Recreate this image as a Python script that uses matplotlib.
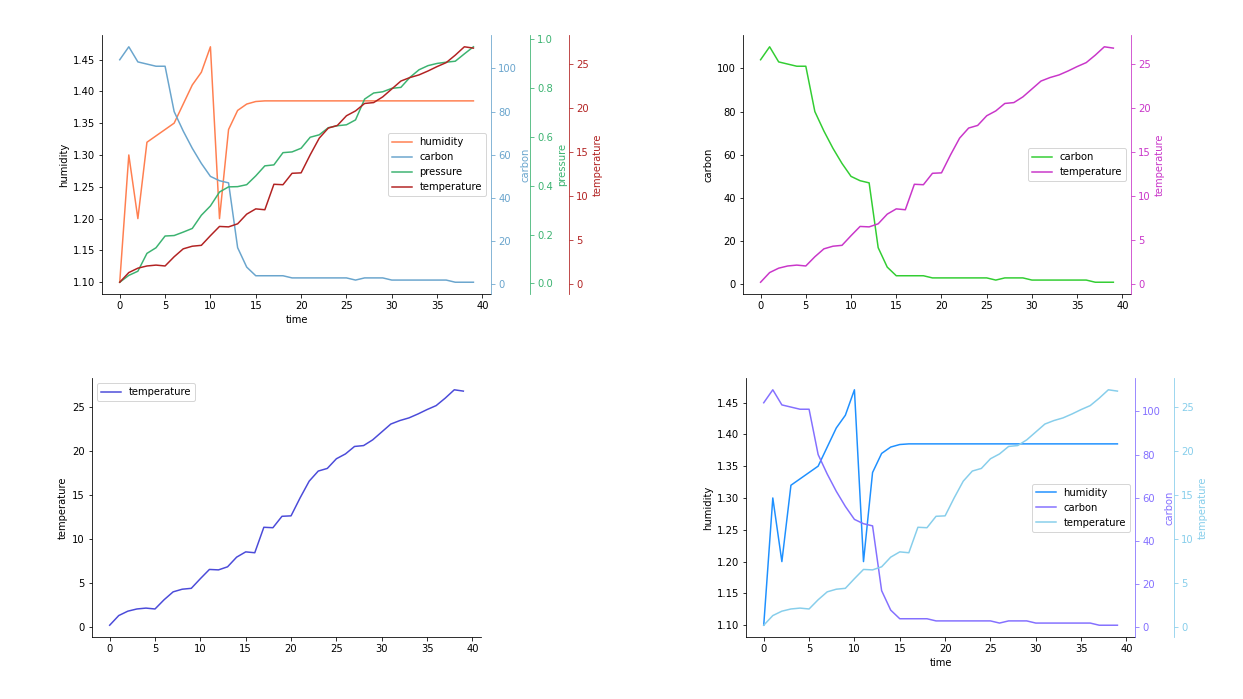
import matplotlib
matplotlib.use("Agg")
import matplotlib.pyplot as plt

# sensor readings, one per time step
time = list(range(40))
humidity = [1.10, 1.30, 1.20, 1.32, 1.33, 1.34, 1.35, 1.38, 1.41, 1.43,
            1.47, 1.20, 1.34, 1.37, 1.38, 1.384, 1.385, 1.385, 1.385, 1.385,
            1.385, 1.385, 1.385, 1.385, 1.385, 1.385, 1.385, 1.385, 1.385, 1.385,
            1.385, 1.385, 1.385, 1.385, 1.385, 1.385, 1.385, 1.385, 1.385, 1.385]
carbon = [104, 110, 103, 102, 101, 101, 80, 71, 63, 56,
          50, 48, 47, 17, 8, 4, 4, 4, 4, 3,
          3, 3, 3, 3, 3, 3, 2, 3, 3, 3,
          2, 2, 2, 2, 2, 2, 2, 1, 1, 1]
pressure = [0.005, 0.033, 0.05, 0.123, 0.146, 0.194, 0.196, 0.21, 0.225, 0.279,
            0.317, 0.374, 0.395, 0.396, 0.404, 0.44, 0.481, 0.485, 0.535, 0.538,
            0.553, 0.598, 0.608, 0.637, 0.645, 0.649, 0.669, 0.754, 0.779, 0.784,
            0.798, 0.802, 0.843, 0.874, 0.891, 0.90, 0.905, 0.909, 0.939, 0.968]
temperature = [0.2, 1.3, 1.8, 2.05, 2.15, 2.05, 3.1, 4.0, 4.3, 4.4,
               5.5, 6.55, 6.5, 6.85, 7.95, 8.55, 8.45, 11.35, 11.3, 12.6,
               12.65, 14.7, 16.6, 17.75, 18.05, 19.15, 19.7, 20.55, 20.65, 21.3,
               22.2, 23.1, 23.5, 23.8, 24.25, 24.75, 25.2, 26.05, 27.0, 26.85]


def despine(ax):
    ax.spines["top"].set_visible(False)
    ax.spines["right"].set_visible(False)


def add_twin(ax, y, color, label, offset=None):
    tw = ax.twinx()
    line, = tw.plot(time, y, color=color, label=label)
    tw.spines["top"].set_visible(False)
    tw.spines["left"].set_visible(False)
    tw.spines["bottom"].set_visible(False)
    tw.spines["right"].set_color(color)
    if offset is not None:
        tw.spines["right"].set_position(("axes", offset))
    tw.tick_params(axis="y", colors=color)
    tw.set_ylabel(label, color=color)
    return line


fig = plt.figure(figsize=(1243 / 72, 699 / 72), dpi=72)

# top left: all four sensors
ax1 = fig.add_axes([0.0821, 0.5794, 0.3130, 0.3705])
despine(ax1)
l1, = ax1.plot(time, humidity, color="coral", label="humidity")
ax1.set_ylabel("humidity")
ax1.set_xlabel("time")
l2 = add_twin(ax1, carbon, "#6aa5cd", "carbon")
l3 = add_twin(ax1, pressure, "mediumseagreen", "pressure", 1.1)
l4 = add_twin(ax1, temperature, "firebrick", "temperature", 1.2)
ax1.legend(handles=[l1, l2, l3, l4], loc="center right")

# top right: carbon and temperature
ax2 = fig.add_axes([0.5977, 0.5794, 0.3122, 0.3705])
despine(ax2)
c1, = ax2.plot(time, carbon, color="limegreen", label="carbon")
ax2.set_ylabel("carbon")
c2 = add_twin(ax2, temperature, "#c936c9", "temperature")
ax2.legend(handles=[c1, c2], loc="center right")

# bottom left: temperature only
ax3 = fig.add_axes([0.0740, 0.0887, 0.3130, 0.3705])
despine(ax3)
ax3.plot(time, temperature, color="#4b4bd9", label="temperature")
ax3.set_ylabel("temperature")
ax3.legend(loc="upper left")

# bottom right: humidity, carbon, temperature
ax4 = fig.add_axes([0.6002, 0.0887, 0.3130, 0.3705])
despine(ax4)
h1, = ax4.plot(time, humidity, color="dodgerblue", label="humidity")
ax4.set_ylabel("humidity")
ax4.set_xlabel("time")
h2 = add_twin(ax4, carbon, "#8470ff", "carbon")
h3 = add_twin(ax4, temperature, "skyblue", "temperature", 1.1)
ax4.legend(handles=[h1, h2, h3], loc="center right")

fig.savefig("out.png", dpi=72)
